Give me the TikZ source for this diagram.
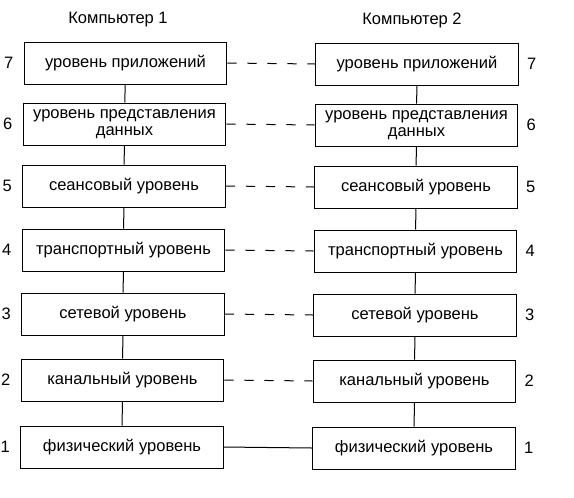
\documentclass[tikz,border=0pt]{standalone}
\usepackage{fontspec}
\setmainfont{Liberation Sans}
\usetikzlibrary{positioning}

\begin{document}
\begin{tikzpicture}[x=0.75pt,y=-0.75pt,font=\fontsize{12.4}{13}\selectfont,
  layer/.style={draw,line width=0.75pt,minimum width=152pt,minimum height=31.5pt,align=center,inner sep=1pt},
  num/.style={inner sep=0pt},
  link/.style={line width=0.75pt},
  peer/.style={line width=0.75pt,dash pattern=on 7pt off 8pt}
]
  \useasboundingbox (0,0) rectangle (574,497);

  \node (title1) at (118,20) {Компьютер 1};
  \node (title2) at (412,20) {Компьютер 2};

  % computer 1
  \node[layer] (l7) at (125.5,63) {уровень приложений};
  \node[layer] (l6) at (124.5,124) {уровень представления\\данных};
  \node[layer] (l5) at (124,186) {сеансовый уровень};
  \node[layer] (l4) at (123.5,250) {транспортный уровень};
  \node[layer] (l3) at (123,314) {сетевой уровень};
  \node[layer] (l2) at (122.5,380) {канальный уровень};
  \node[layer] (l1) at (122,447) {физический уровень};

  % computer 2
  \node[layer] (r7) at (417,64) {уровень приложений};
  \node[layer] (r6) at (416.5,125) {уровень представления\\данных};
  \node[layer] (r5) at (416,187) {сеансовый уровень};
  \node[layer] (r4) at (415.5,251) {транспортный уровень};
  \node[layer] (r3) at (415,315) {сетевой уровень};
  \node[layer] (r2) at (414.5,381) {канальный уровень};
  \node[layer] (r1) at (414,448) {физический уровень};

  % level numbers
  \node[num,left=7.5pt of l7] (n7) {7};
  \node[num,left=7.5pt of l6] (n6) {6};
  \node[num,left=7.5pt of l5] (n5) {5};
  \node[num,left=7.5pt of l4] (n4) {4};
  \node[num,left=7.5pt of l3] (n3) {3};
  \node[num,left=7.5pt of l2] (n2) {2};
  \node[num,left=7.5pt of l1] (n1) {1};
  \node[num,right=6pt of r7] (m7) {7};
  \node[num,right=6pt of r6] (m6) {6};
  \node[num,right=6pt of r5] (m5) {5};
  \node[num,right=6pt of r4] (m4) {4};
  \node[num,right=6pt of r3] (m3) {3};
  \node[num,right=6pt of r2] (m2) {2};
  \node[num,right=6pt of r1] (m1) {1};

  % stacks
  \draw[link] (l7) -- (l6) -- (l5) -- (l4) -- (l3) -- (l2) -- (l1);
  \draw[link] (r7) -- (r6) -- (r5) -- (r4) -- (r3) -- (r2) -- (r1);

  % peer protocols
  \draw[peer] (l7.east) -- (r7.west);
  \draw[peer] (l6.east) -- (r6.west);
  \draw[peer] (l5.east) -- (r5.west);
  \draw[peer] (l4.east) -- (r4.west);
  \draw[peer] (l3.east) -- (r3.west);
  \draw[peer] (l2.east) -- (r2.west);
  \draw[link] (l1.east) -- (r1.west);
\end{tikzpicture}
\end{document}
